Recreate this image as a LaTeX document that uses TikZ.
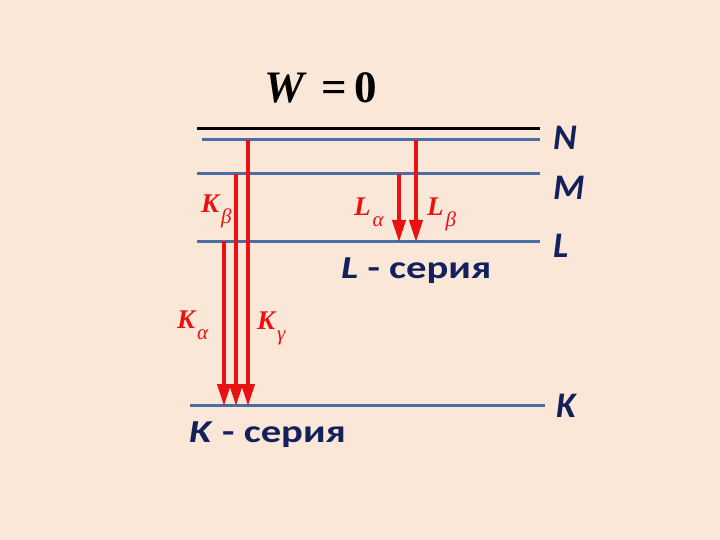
\documentclass[tikz,border=0pt]{standalone}
\usepackage{fontspec}
\setmainfont{Liberation Serif}
\setsansfont{Carlito}
\usetikzlibrary{arrows.meta}
\definecolor{bg}{RGB}{251,231,216}
\definecolor{lvl}{RGB}{74,110,164}
\definecolor{navy}{RGB}{18,32,92}
\definecolor{rd}{RGB}{232,18,18}
\newcommand{\rsub}[2]{#1\kern2pt\raisebox{-11pt}{\fontsize{21}{21}\selectfont\mdseries\itshape #2}}
\tikzset{
  level/.style={draw=lvl,line width=3pt},
  trans/.style={draw=rd,line width=3.8pt,-{Triangle[width=13pt,length=22pt]}},
  rlab/.style={text=rd,font=\fontsize{27}{27}\selectfont\bfseries\itshape,inner sep=0pt,anchor=base west},
  shell/.style={text=navy,font=\sffamily\fontsize{36}{36}\selectfont\bfseries\itshape,inner sep=0pt,anchor=base west},
  series/.style={text=navy,font=\sffamily\fontsize{32}{32}\selectfont\bfseries,inner sep=0pt,anchor=base west}
}
\begin{document}
\begin{tikzpicture}[x=1pt,y=-1pt]
\fill[bg] (0,0) rectangle (720,540);
\useasboundingbox (0,0) rectangle (720,540);
% levels
\draw[black,line width=3pt] (197,129) -- (540,129);
\draw[level] (202,140) -- (540,140);
\draw[level] (197,174) -- (540,174);
\draw[level] (197,241) -- (540,241);
\draw[level] (190,405) -- (545,405);
% endpoints
\coordinate (kgS) at (248,140); \coordinate (kgE) at (248,406);
\coordinate (kbS) at (236,174); \coordinate (kbE) at (236,406);
\coordinate (kaS) at (224,241); \coordinate (kaE) at (224,406);
\coordinate (laS) at (399,174); \coordinate (laE) at (399,242);
\coordinate (lbS) at (416,140); \coordinate (lbE) at (416,242);
\draw[trans] (kaS) -- (kaE);
\draw[trans] (kbS) -- (kbE);
\draw[trans] (kgS) -- (kgE);
\draw[trans] (laS) -- (laE);
\draw[trans] (lbS) -- (lbE);
% title
\node[inner sep=0pt,anchor=base west,font=\fontsize{45}{45}\selectfont\bfseries] (w) at (264,103) {\textit{W}\,\,=\,0};
% red labels
\node[rlab] (kb) at (201,212) {\rsub{K}{β}};
\node[rlab] (la) at (354,215) {\rsub{L}{α}};
\node[rlab] (lb) at (427,215) {\rsub{L}{β}};
\node[rlab] (ka) at (177,328) {\rsub{K}{α}};
\node[rlab] (kg) at (257,329) {\rsub{K}{γ}};
% shell labels
\node[shell] (n) at (553,150) {N};
\node[shell] (m) at (553,200) {M};
\node[shell] (l) at (553,257) {L};
\node[shell] (k) at (556,417) {K};
% series
\node[series] (ls) at (341,278) {\scalebox{1.27}[1]{\textit{L} - серия}};
\node[series] (ks) at (189,442) {\scalebox{1.27}[1]{\textit{K} - серия}};
\end{tikzpicture}
\end{document}
